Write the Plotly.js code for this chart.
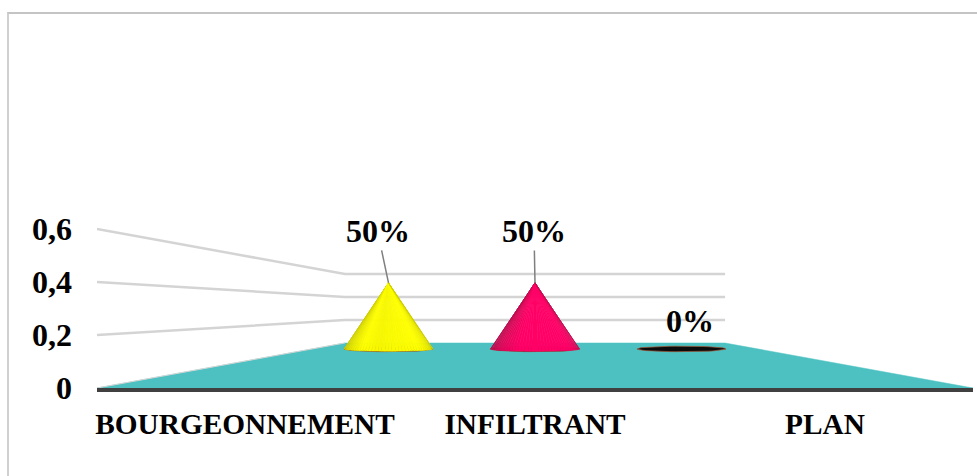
<!DOCTYPE html>
<html>
<head>
<meta charset="utf-8">
<script src="https://cdn.plot.ly/plotly-3.0.1.min.js"></script>
<style>
  html, body { margin: 0; padding: 0; background: #fff; overflow: hidden; }
  #frame { position: absolute; left: 7px; top: 12px; right: 0; bottom: 0;
           border-left: 2px solid #d0d0d0; border-top: 2px solid #c4c4c4; }
  #chart { position: absolute; left: 0; top: 0; width: 977px; height: 476px; }
</style>
</head>
<body>
<div id="frame"></div>
<div id="chart"></div>
<script>
// Categories and their shares
const categories = ['BOURGEONNEMENT', 'INFILTRANT', 'PLAN'];
const shares = [0.5, 0.5, 0];
const tickValues = [0, 0.2, 0.4, 0.6];
const tickLabels = ['0', '0,2', '0,4', '0,6'];
const bandCentres = [0.5, 1.5, 2.5];

// Cone appearance, one entry per category
const shadeStops = [
  [[0, '#c0c000'], [0.18, '#e8e800'], [0.3, '#ffff00'], [0.42, '#f6f600'], [0.75, '#ffff00'], [0.88, '#ecec00'], [1, '#c8c800']],
  [[0, '#a8104c'], [0.22, '#e00a5c'], [0.38, '#ff0066'], [0.8, '#ff0066'], [0.92, '#e00a5c'], [1, '#b8104e']],
  [[0, '#000000'], [1, '#000000']]
];

// Label offsets from each cone tip, in pixels
const labelDx = [-11, -1, 8];
const labelDy = [-52, -52, -28];

// Pseudo-3D view: depth 1 is the front edge of the floor, wallDepth the back wall
const floorDepth = 1, wallDepth = 0.434, coneDepth = 0.5017, labelDepth = 0.993;
const horizon = 0.3;           // floor rise towards the vanishing line, in axis units
const coneRadius = 0.304;      // in category bands at the front edge
const coneFlatten = 0.0105;    // ellipse half-height, in axis units
const coneFloor = 0.1474;      // axis height of the cone base centres
const coneRise = 0.498;        // axis units per unit of share

const projX = (x, d) => 1.5 + (x - 1.5) * d;
const projY = (v, d) => horizon * (1 - d) + v * d;

const baseStyle = { type: 'scatter', hoverinfo: 'skip', showlegend: false };
const traces = [];

// Floor
traces.push(Object.assign({}, baseStyle, {
  x: [projX(0, floorDepth), projX(0, wallDepth), projX(3, wallDepth), projX(3, floorDepth), projX(0, floorDepth)],
  y: [projY(0, floorDepth), projY(0, wallDepth), projY(0, wallDepth), projY(0, floorDepth), projY(0, floorDepth)],
  mode: 'lines', fill: 'toself', fillcolor: '#4dc1c1',
  line: { color: '#4dc1c1', width: 0.5 }
}));
// Floor's left edge
traces.push(Object.assign({}, baseStyle, {
  x: [projX(0, floorDepth), projX(0, wallDepth)],
  y: [projY(0, floorDepth), projY(0, wallDepth)],
  mode: 'lines', line: { color: '#d4d4d4', width: 1 }
}));

// Gridlines: side wall running into the back wall
tickValues.filter(v => v > 0).forEach(v => {
  traces.push(Object.assign({}, baseStyle, {
    x: [projX(0, floorDepth), projX(0, wallDepth), projX(3, wallDepth)],
    y: [projY(v, floorDepth), projY(v, wallDepth), projY(v, wallDepth)],
    mode: 'lines', line: { color: '#d4d4d4', width: 2.5 }
  }));
});

function hexToRgb(h) {
  return [1, 3, 5].map(i => parseInt(h.substr(i, 2), 16));
}
function shadeAt(stops, t) {
  for (let i = 1; i < stops.length; i++) {
    if (t <= stops[i][0]) {
      const a = hexToRgb(stops[i - 1][1]), b = hexToRgb(stops[i][1]);
      const f = (t - stops[i - 1][0]) / (stops[i][0] - stops[i - 1][0]);
      return 'rgb(' + a.map((c, k) => Math.round(c + (b[k] - c) * f)).join(',') + ')';
    }
  }
  return stops[stops.length - 1][1];
}

// Cones: base ellipse, then shaded strips from the rim up to the tip
const rimX = (i, a) => projX(bandCentres[i], coneDepth) + coneRadius * coneDepth * Math.cos(a);
const rimY = (a, r) => coneFloor + r * Math.sin(a);

categories.forEach((c, i) => {
  const ex = [], ey = [];
  for (let k = 0; k <= 48; k++) {
    const a = k / 48 * 2 * Math.PI;
    ex.push(rimX(i, a));
    ey.push(rimY(a, coneFlatten));
  }
  traces.push(Object.assign({}, baseStyle, {
    x: ex, y: ey, mode: 'lines', fill: 'toself', fillcolor: '#0a0a0a',
    line: { color: '#a5583a', width: 0.7 }
  }));
  if (shares[i] > 0) {
    const strips = 40;
    const tipX = projX(bandCentres[i], coneDepth);
    const tipY = coneFloor + shares[i] * coneRise;
    for (let k = 0; k < strips; k++) {
      const a0 = Math.PI - k / strips * Math.PI;
      const a1 = Math.PI - (k + 1) / strips * Math.PI;
      const col = shadeAt(shadeStops[i], (k + 0.5) / strips);
      traces.push(Object.assign({}, baseStyle, {
        x: [tipX, rimX(i, a0), rimX(i, a1), tipX],
        y: [tipY, rimY(a0, -coneFlatten * 0.8), rimY(a1, -coneFlatten * 0.8), tipY],
        mode: 'lines', fill: 'toself', fillcolor: col,
        line: { color: col, width: 0.6 }
      }));
    }
  }
});

const annotations = categories.map((c, i) => ({
  x: projX(bandCentres[i], coneDepth),
  y: coneFloor + shares[i] * coneRise,
  xref: 'x', yref: 'y', axref: 'pixel', ayref: 'pixel',
  text: '<b>' + Math.round(shares[i] * 100) + '%</b>',
  showarrow: true, arrowhead: 0, arrowwidth: 1.5,
  arrowcolor: shares[i] > 0 ? '#7f7f7f' : 'rgba(0,0,0,0)',
  ax: labelDx[i], ay: labelDy[i],
  font: { family: 'Liberation Serif', size: 32, color: '#000' }
}));

const layout = {
  width: 977, height: 476,
  margin: { l: 97, r: 4, t: 203, b: 88, pad: 0 },
  paper_bgcolor: 'rgba(0,0,0,0)', plot_bgcolor: 'rgba(0,0,0,0)',
  separators: ', ',
  showlegend: false,
  xaxis: {
    range: [0, 3], showgrid: false, zeroline: false, fixedrange: true,
    tickmode: 'array', tickvals: bandCentres.map(c => projX(c, labelDepth)),
    ticktext: categories.map(c => '<b>' + c + '</b>'),
    ticks: '', ticklabelstandoff: 7,
    showline: true, linecolor: '#404040', linewidth: 4,
    tickfont: { family: 'Liberation Serif', size: 29.3, color: '#000' }
  },
  yaxis: {
    range: [0, 185 / 265], showgrid: false, zeroline: false, fixedrange: true,
    tickmode: 'array', tickvals: tickValues, ticktext: tickLabels.map(t => '<b>' + t + '</b>'),
    ticks: '', ticklabelstandoff: 24, showline: false,
    tickfont: { family: 'Liberation Serif', size: 32, color: '#000' }
  },
  annotations: annotations
};

Plotly.newPlot('chart', traces, layout, { displayModeBar: false, staticPlot: true });
</script>
</body>
</html>
